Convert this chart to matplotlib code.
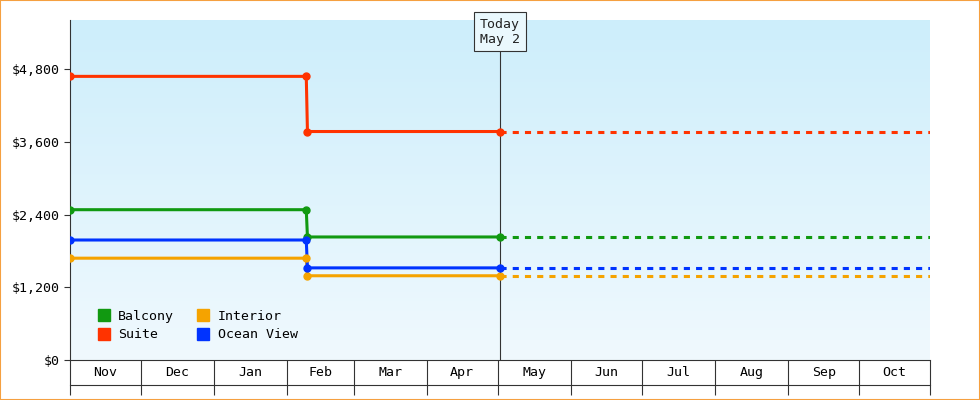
import matplotlib
matplotlib.use("Agg")
import matplotlib.pyplot as plt
import matplotlib.dates as mdates
import numpy as np
from datetime import date
from matplotlib.lines import Line2D
from matplotlib.patches import Rectangle

series_names = ["Balcony", "Suite", "Interior", "Ocean View"]
colors = ["#119911", "#ff3300", "#f5a300", "#0033ff"]
start_date = date(2024, 11, 1)
change_date = date(2025, 2, 9)
today_date = date(2025, 5, 2)
end_date = date(2025, 10, 31)
before = [2480, 4680, 1680, 1980]
after = [2030, 3770, 1390, 1520]
y_ticks = [0, 1200, 2400, 3600, 4800]
month_starts = [date(2024, 11, 1), date(2024, 12, 1), date(2025, 1, 1), date(2025, 2, 1),
                date(2025, 3, 1), date(2025, 4, 1), date(2025, 5, 1), date(2025, 6, 1),
                date(2025, 7, 1), date(2025, 8, 1), date(2025, 9, 1), date(2025, 10, 1),
                date(2025, 10, 31)]
month_labels = ["Nov", "Dec", "Jan", "Feb", "Mar", "Apr", "May", "Jun", "Jul", "Aug", "Sep", "Oct"]

plt.rcParams["font.family"] = "DejaVu Sans Mono"
fig = plt.figure(figsize=(9.8, 4), dpi=100)
fig.patches.append(Rectangle((0, 0), 1, 1, transform=fig.transFigure, fill=False,
                             edgecolor="#f5a040", lw=1.5))
ax = fig.add_axes([70/980, 40/400, 860/980, 340/400])
x0, x1 = mdates.date2num(start_date), mdates.date2num(end_date)
ymax = 5610
ax.set_xlim(x0, x1)
ax.set_ylim(0, ymax)
grad = np.linspace(0, 1, 256).reshape(-1, 1)
from matplotlib.colors import LinearSegmentedColormap
cmap = LinearSegmentedColormap.from_list("bg", ["#f0f9fe", "#cdeefb"])
ax.imshow(grad, aspect="auto", cmap=cmap, origin="lower", extent=[x0, x1, 0, ymax], zorder=0)

xc, xt, xe = [mdates.date2num(d) for d in (change_date, today_date, end_date)]
for name, c, b, a in zip(series_names, colors, before, after):
    ax.plot([x0, xc, xc + 0.5, xt], [b, b, a, a], color=c, lw=2.2, zorder=3)
    ax.plot([x0, xc, xc + 0.5, xt], [b, b, a, a], 'o', color=c, ms=5, zorder=4)
    ax.plot([xt, xe], [a, a], color=c, lw=2.2, ls=(0, (2, 2)), zorder=3)

ax.axvline(xt, color="#333333", lw=0.8, zorder=2)
ax.text(xt, 5420, "Today\nMay 2", ha="center", va="center", fontsize=9.5, color="#222",
        bbox=dict(boxstyle="square,pad=0.45", fc="#eaf8fd", ec="#333", lw=0.8), zorder=5)

for s in ["top", "right"]:
    ax.spines[s].set_visible(False)
ax.spines["left"].set_color("#333")
ax.spines["bottom"].set_color("#333")
ax.set_yticks(y_ticks)
ax.set_yticklabels([f"${v:,}" for v in y_ticks], fontsize=9.5)
ax.tick_params(axis="y", length=4, color="#333")
mnums = [mdates.date2num(d) for d in month_starts]
ax.set_xticks(mnums)
ax.set_xticklabels([])
ax.tick_params(axis="x", length=25, color="#333", width=0.8)
for i, lab in enumerate(month_labels):
    ax.text((mnums[i] + mnums[i+1]) / 2, -0.037, lab, transform=ax.get_xaxis_transform(),
            ha="center", va="center", fontsize=9.5)
fig.add_artist(Line2D([70/980, 930/980], [15/400, 15/400], color="#333", lw=0.8))

handles = [Line2D([], [], marker="s", ls="", color=c, ms=8) for c in colors]
ax.legend(handles, series_names, ncol=2, loc="lower left", bbox_to_anchor=(0.01, 0.02),
          frameon=False, fontsize=9.5, handletextpad=0.1, columnspacing=1.2, labelspacing=0.4)

fig.savefig("out.png", dpi=100)
